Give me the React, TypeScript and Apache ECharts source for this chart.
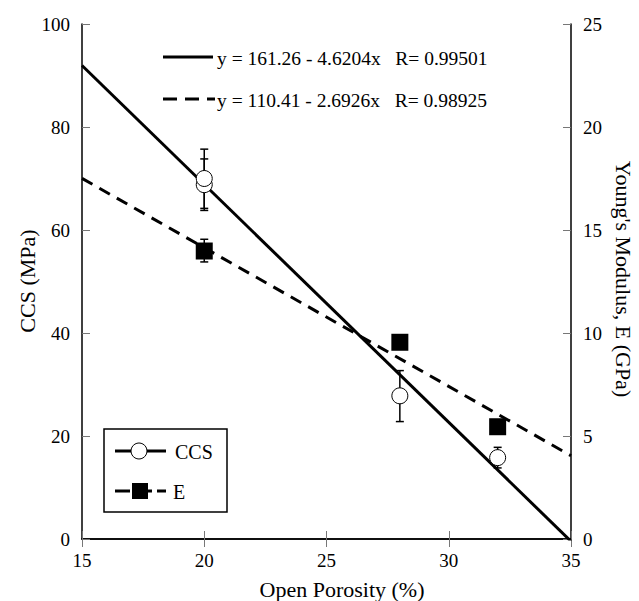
import React, { useEffect, useRef } from "react";
import * as echarts from "echarts";

const FONT = "'Liberation Serif', 'Times New Roman', serif";

// Measured data (x = open porosity %)
const ccsX = [20, 20, 28, 32];
const ccsY = [70.0, 68.8, 27.8, 15.8]; // MPa
const ccsLow = [64.2, 63.8, 22.8, 13.8];
const ccsHigh = [75.7, 73.8, 32.7, 17.8];

const eX = [20, 28, 32];
const eY = [13.98, 9.55, 5.45]; // GPa
const eLow = [13.45, 9.3, 5.2];
const eHigh = [14.55, 9.8, 5.7];

// Linear fit end points (left-axis units)
const fitCcsX = [15, 35];
const fitCcsY = [91.95, -0.45];
const fitEX = [15, 35];
const fitEY = [70.02, 16.17];

const fitCcsLabel = "y = 161.26 - 4.6204x   R= 0.99501";
const fitELabel = "y = 110.41 - 2.6926x   R= 0.98925";

const xTicks = { min: 15, max: 35, interval: 5 };
const yLeft = { min: 0, max: 100, interval: 20 };
const yRight = { min: 0, max: 25, interval: 5 };

function errorBar() {
  return (params: any, api: any) => {
    const x = api.value(0);
    const lo = api.coord([x, api.value(1)]);
    const hi = api.coord([x, api.value(2)]);
    const hw = 4;
    const st = { stroke: "#000", lineWidth: 1.5 };
    return {
      type: "group",
      children: [
        { type: "line", shape: { x1: lo[0], y1: lo[1], x2: hi[0], y2: hi[1] }, style: st },
        { type: "line", shape: { x1: lo[0] - hw, y1: lo[1], x2: lo[0] + hw, y2: lo[1] }, style: st },
        { type: "line", shape: { x1: hi[0] - hw, y1: hi[1], x2: hi[0] + hw, y2: hi[1] }, style: st },
      ],
    };
  };
}

export default function App() {
  const ref = useRef<HTMLDivElement>(null);
  useEffect(() => {
    if (!ref.current) return;
    const chart = echarts.init(ref.current, undefined, { renderer: "svg" });
    const axisLine = { show: true, lineStyle: { color: "#000", width: 1.5 } };
    const axisTick = { show: true, inside: true, length: 8, lineStyle: { color: "#777", width: 1 } };
    const axisLabel = { color: "#000", fontSize: 19, fontFamily: FONT, margin: 12 };
    const option: any = {
      animation: false,
      backgroundColor: "#fff",
      textStyle: { fontFamily: FONT },
      grid: { left: 82, top: 24, right: 68, bottom: 62, containLabel: false },
      xAxis: [
        { type: "value", ...xTicks, axisLine, axisTick, axisLabel, splitLine: { show: false } },
        { type: "value", position: "top", ...xTicks, axisLine, axisTick, axisLabel: { show: false }, splitLine: { show: false } },
      ],
      yAxis: [
        { type: "value", position: "left", ...yLeft, axisLine, axisTick, axisLabel, splitLine: { show: false } },
        { type: "value", position: "right", ...yRight, axisLine, axisTick, axisLabel, splitLine: { show: false } },
      ],
      series: [
        {
          type: "line",
          data: fitCcsX.map((x, i) => [x, fitCcsY[i]]),
          symbol: "none",
          lineStyle: { color: "#000", width: 3 },
          clip: true,
          z: 1,
        },
        {
          type: "line",
          data: fitEX.map((x, i) => [x, fitEY[i]]),
          symbol: "none",
          lineStyle: { color: "#000", width: 3, type: [12, 8] },
          clip: true,
          z: 1,
        },
        {
          type: "custom",
          renderItem: errorBar(),
          data: ccsX.map((x, i) => [x, ccsLow[i], ccsHigh[i]]),
          z: 2,
        },
        {
          type: "custom",
          yAxisIndex: 1,
          renderItem: errorBar(),
          data: eX.map((x, i) => [x, eLow[i], eHigh[i]]),
          z: 2,
        },
        {
          type: "scatter",
          data: ccsX.map((x, i) => [x, ccsY[i]]).reverse(),
          symbol: "circle",
          symbolSize: 16,
          itemStyle: { color: "#fff", borderColor: "#000", borderWidth: 1, opacity: 1 },
          z: 3,
        },
        {
          type: "scatter",
          yAxisIndex: 1,
          data: eX.map((x, i) => [x, eY[i]]),
          symbol: "rect",
          symbolSize: 17,
          itemStyle: { color: "#000", opacity: 1 },
          z: 3,
        },
      ],
      graphic: [
        // axis titles
        { type: "text", x: 27, y: 281, rotation: Math.PI / 2, style: { text: "CCS (MPa)", fontSize: 22, fontFamily: FONT, fill: "#000", textAlign: "center", textVerticalAlign: "middle" } },
        { type: "text", x: 623, y: 279, rotation: -Math.PI / 2, style: { text: "Young's Modulus, E (GPa)", fontSize: 22, fontFamily: FONT, fill: "#000", textAlign: "center", textVerticalAlign: "middle" } },
        { type: "text", x: 342, y: 589, style: { text: "Open Porosity (%)", fontSize: 22, fontFamily: FONT, fill: "#000", textAlign: "center", textVerticalAlign: "middle" } },
        // fit legend
        { type: "line", shape: { x1: 163, y1: 57, x2: 213, y2: 57 }, style: { stroke: "#000", lineWidth: 3 } },
        { type: "text", x: 217, y: 58, style: { text: fitCcsLabel, fontSize: 19.5, fontFamily: FONT, fill: "#000", textAlign: "left", textVerticalAlign: "middle" } },
        { type: "line", shape: { x1: 163, y1: 99, x2: 215, y2: 99 }, style: { stroke: "#000", lineWidth: 3, lineDash: [14, 8] } },
        { type: "text", x: 217, y: 100, style: { text: fitELabel, fontSize: 19.5, fontFamily: FONT, fill: "#000", textAlign: "left", textVerticalAlign: "middle" } },
        // series legend box
        { type: "rect", shape: { x: 104, y: 429, width: 123, height: 83 }, style: { fill: "#fff", stroke: "#000", lineWidth: 1.5 }, z: 10 },
        { type: "line", shape: { x1: 115, y1: 451, x2: 166, y2: 451 }, style: { stroke: "#000", lineWidth: 3 }, z: 11 },
        { type: "circle", shape: { cx: 139, cy: 451, r: 8 }, style: { fill: "#fff", stroke: "#000", lineWidth: 1 }, z: 12 },
        { type: "text", x: 175, y: 452, style: { text: "CCS", fontSize: 20, fontFamily: FONT, fill: "#000", textAlign: "left", textVerticalAlign: "middle" }, z: 11 },
        { type: "line", shape: { x1: 115, y1: 491, x2: 166, y2: 491 }, style: { stroke: "#000", lineWidth: 3, lineDash: [15, 5, 6, 6, 5, 5] }, z: 11 },
        { type: "rect", shape: { x: 132, y: 483, width: 16, height: 16 }, style: { fill: "#000" }, z: 12 },
        { type: "text", x: 173, y: 492, style: { text: "E", fontSize: 20, fontFamily: FONT, fill: "#000", textAlign: "left", textVerticalAlign: "middle" }, z: 11 },
      ],
    };
    chart.setOption(option);
    return () => chart.dispose();
  }, []);
  return <div ref={ref} style={{ position: "fixed", left: 0, top: 0, width: 639, height: 601 }} />;
}
